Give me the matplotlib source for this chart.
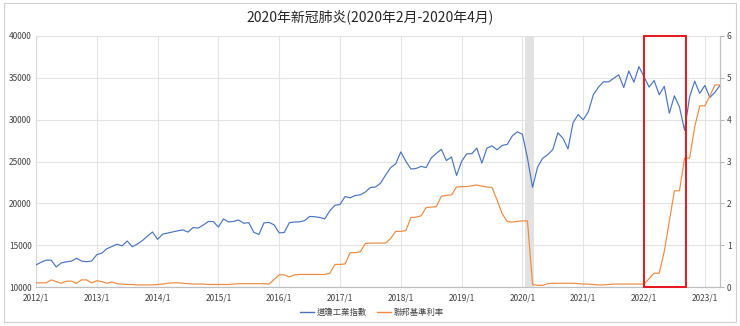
import matplotlib
matplotlib.use("Agg")

import matplotlib.pyplot as plt
from matplotlib.lines import Line2D
from matplotlib.patches import Rectangle

plt.rcParams["font.family"] = ["Noto Sans CJK TC", "DejaVu Sans"]

# --- Data: monthly, 2012/1 .. 2023/4 ----------------------------------------
TITLE = "2020年新冠肺炎(2020年2月-2020年4月)"
LABEL_DJIA = "道瓊工業指數"
LABEL_RATE = "聯邦基準利率"

djia = [
    12633, 12952, 13212, 13214, 12393, 12880, 13009, 13091, 13437, 13096, 13026, 13104,  # 2012
    13861, 14054, 14579, 14840, 15116, 14910, 15500, 14810, 15130, 15546, 16086, 16577,  # 2013
    15699, 16322, 16458, 16581, 16717, 16827, 16563, 17098, 17043, 17391, 17828, 17823,  # 2014
    17165, 18133, 17776, 17841, 18011, 17620, 17690, 16528, 16285, 17664, 17720, 17425,  # 2015
    16466, 16517, 17685, 17774, 17787, 17930, 18432, 18401, 18308, 18142, 19124, 19763,  # 2016
    19864, 20812, 20663, 20941, 21009, 21350, 21891, 21948, 22405, 23377, 24272, 24719,  # 2017
    26149, 25029, 24103, 24163, 24416, 24271, 25415, 25965, 26458, 25116, 25538, 23327,  # 2018
    24999, 25916, 25929, 26593, 24815, 26600, 26864, 26403, 26917, 27046, 28051, 28538,  # 2019
    28256, 25409, 21917, 24346, 25383, 25813, 26428, 28430, 27782, 26502, 29639, 30606,  # 2020
    29983, 30932, 32982, 33875, 34529, 34503, 34935, 35361, 33844, 35820, 34484, 36338,  # 2021
    35132, 33893, 34678, 32977, 33991, 30775, 32845, 31510, 28726, 32733, 34590, 33147,  # 2022
    34086, 32657, 33274, 34098,                                                          # 2023
]

fed_rate = [
    0.10, 0.10, 0.10, 0.17, 0.13, 0.09, 0.14, 0.14, 0.09, 0.17, 0.17, 0.10,  # 2012
    0.15, 0.13, 0.09, 0.12, 0.08, 0.07, 0.06, 0.06, 0.05, 0.05, 0.05, 0.05,  # 2013
    0.06, 0.07, 0.09, 0.10, 0.10, 0.09, 0.08, 0.07, 0.07, 0.07, 0.06, 0.06,  # 2014
    0.06, 0.06, 0.06, 0.07, 0.08, 0.08, 0.08, 0.08, 0.08, 0.08, 0.07, 0.18,  # 2015
    0.29, 0.29, 0.24, 0.29, 0.30, 0.30, 0.30, 0.30, 0.30, 0.30, 0.33, 0.54,  # 2016
    0.54, 0.55, 0.82, 0.82, 0.84, 1.04, 1.05, 1.05, 1.05, 1.05, 1.16, 1.33,  # 2017
    1.33, 1.35, 1.66, 1.67, 1.70, 1.90, 1.91, 1.92, 2.17, 2.19, 2.20, 2.39,  # 2018
    2.40, 2.40, 2.42, 2.44, 2.41, 2.39, 2.38, 2.08, 1.75, 1.57, 1.55, 1.57,  # 2019
    1.58, 1.58, 0.06, 0.04, 0.04, 0.08, 0.09, 0.09, 0.09, 0.09, 0.09, 0.08,  # 2020
    0.07, 0.07, 0.06, 0.05, 0.05, 0.06, 0.07, 0.07, 0.07, 0.07, 0.07, 0.07,  # 2021
    0.07, 0.20, 0.33, 0.33, 0.85, 1.58, 2.30, 2.30, 3.08, 3.08, 3.83, 4.33,  # 2022
    4.33, 4.57, 4.83, 4.83,                                                  # 2023
]

tick_labels = [f"{y}/1" for y in range(2012, 2024)]

# highlighted periods (month index from 2012/1)
covid_band = (96.6, 98.2)
hike_box = (120.0, 128.3)

BLUE = "#4a74c0"
ORANGE = "#f08a40"
GRID = "#e3e3e3"
TXT = "#404040"

# --- Figure -----------------------------------------------------------------
fig = plt.figure(figsize=(7.4, 3.26), dpi=100)
fig.patches.append(Rectangle((0.005, 0.012), 0.99, 0.978, transform=fig.transFigure,
                             fill=False, edgecolor="#d0d0d0", linewidth=0.8))

ax = fig.add_axes([0.0486, 0.1196, 0.9244, 0.770])
ax2 = ax.twinx()

x = list(range(len(djia)))
ax.plot(x, djia, color=BLUE, linewidth=0.85, zorder=3)
ax2.plot(x, fed_rate, color=ORANGE, linewidth=0.85, zorder=3)

ax.axvspan(*covid_band, color="#e2e2e2", linewidth=0, zorder=1)

ax.set_xlim(0, len(djia) - 1)
ax.set_ylim(10000, 40000)
ax2.set_ylim(0, 6)
ax.set_yticks(range(10000, 40001, 5000))
ax2.set_yticks(range(0, 7))
ax.set_xticks(range(0, len(djia), 12))
ax.set_xticklabels(tick_labels)

ax.grid(True, color=GRID, linewidth=0.8, zorder=0)
ax.set_axisbelow(True)

ax.tick_params(axis="both", length=0, labelsize=6, colors=TXT, pad=3)
ax.tick_params(axis="x", pad=5)
ax2.tick_params(axis="y", length=3, width=0.6, color="#a6a6a6",
                labelsize=6, labelcolor=TXT, pad=2)

for a in (ax, ax2):
    for side in ("top", "left"):
        a.spines[side].set_visible(False)
    a.spines["bottom"].set_color("#bfbfbf")
    a.spines["right"].set_color("#bfbfbf")
ax.spines["left"].set_visible(True)
ax.spines["left"].set_color("#d9d9d9")

# red box over the 2022 hiking period
ax2.add_patch(Rectangle((hike_box[0], 0), hike_box[1] - hike_box[0], 6,
                        fill=False, edgecolor="#e8161b", linewidth=1.4,
                        zorder=4, clip_on=False))

fig.text(0.5, 0.948, TITLE, ha="center", va="center", fontsize=10, color="#262626")

handles = [Line2D([], [], color=BLUE, linewidth=1.0),
           Line2D([], [], color=ORANGE, linewidth=1.0)]
fig.legend(handles, [LABEL_DJIA, LABEL_RATE], loc="center", ncol=2,
           bbox_to_anchor=(0.503, 0.043), frameon=False, fontsize=6,
           handlelength=1.6, handletextpad=0.4, columnspacing=1.2,
           labelcolor=TXT)

fig.savefig("out.png", dpi=100)
